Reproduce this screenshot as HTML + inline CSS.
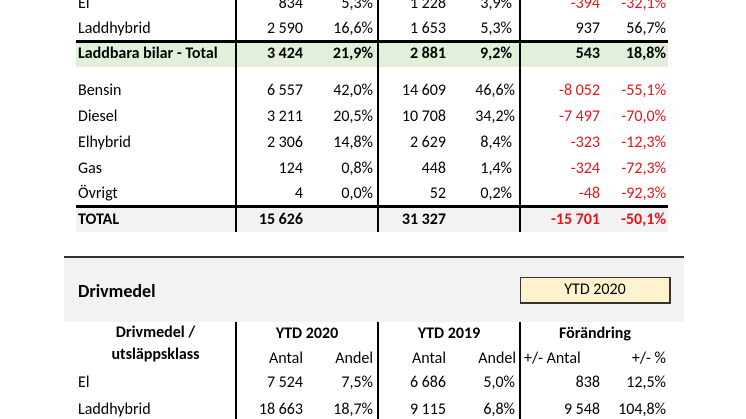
<!DOCTYPE html>
<html><head><meta charset="utf-8"><style>
body{margin:0;width:746px;height:419px;background:#fff;position:relative;overflow:hidden;font-family:Calibri,Carlito,"Liberation Sans",sans-serif;font-size:16px;color:#000}
div{position:absolute}
.t{white-space:nowrap;line-height:18px}
.r{text-align:right}
.red{color:#e8141b}
.b{font-weight:bold}
</style></head><body>
<div style="left:76px;top:42px;width:592px;height:25px;background:#e2efda"></div>
<div style="left:76px;top:208px;width:592px;height:24px;background:#f2f2f2"></div>
<div style="left:76px;top:40px;width:592px;height:3px;background:#000"></div>
<div style="left:76px;top:205px;width:592px;height:3px;background:#000"></div>
<div style="left:235px;top:0;width:2px;height:232px;background:#000"></div>
<div style="left:377px;top:0;width:2px;height:232px;background:#000"></div>
<div style="left:519px;top:0;width:2px;height:232px;background:#000"></div>

<div class="t" style="left:78px;top:-5px">El</div>
<div class="t r" style="right:443px;top:-5px">834</div><div class="t r" style="right:373px;top:-5px">5,3%</div>
<div class="t r" style="right:300px;top:-5px">1 228</div><div class="t r" style="right:234px;top:-5px">3,9%</div>
<div class="t r red" style="right:146px;top:-5px">-394</div><div class="t r red" style="right:80px;top:-5px">-32,1%</div>

<div class="t" style="left:78px;top:20px">Laddhybrid</div>
<div class="t r" style="right:443px;top:20px">2 590</div><div class="t r" style="right:373px;top:20px">16,6%</div>
<div class="t r" style="right:300px;top:20px">1 653</div><div class="t r" style="right:234px;top:20px">5,3%</div>
<div class="t r" style="right:146px;top:20px">937</div><div class="t r" style="right:80px;top:20px">56,7%</div>

<div class="t b" style="left:78px;top:45px">Laddbara bilar - Total</div>
<div class="t r b" style="right:443px;top:45px">3 424</div><div class="t r b" style="right:373px;top:45px">21,9%</div>
<div class="t r b" style="right:300px;top:45px">2 881</div><div class="t r b" style="right:234px;top:45px">9,2%</div>
<div class="t r b" style="right:146px;top:45px">543</div><div class="t r b" style="right:80px;top:45px">18,8%</div>

<div class="t" style="left:78px;top:82px">Bensin</div>
<div class="t r" style="right:443px;top:82px">6 557</div><div class="t r" style="right:373px;top:82px">42,0%</div>
<div class="t r" style="right:300px;top:82px">14 609</div><div class="t r" style="right:231px;top:82px">46,6%</div>
<div class="t r red" style="right:146px;top:82px">-8 052</div><div class="t r red" style="right:80px;top:82px">-55,1%</div>

<div class="t" style="left:78px;top:108px">Diesel</div>
<div class="t r" style="right:443px;top:108px">3 211</div><div class="t r" style="right:373px;top:108px">20,5%</div>
<div class="t r" style="right:300px;top:108px">10 708</div><div class="t r" style="right:231px;top:108px">34,2%</div>
<div class="t r red" style="right:146px;top:108px">-7 497</div><div class="t r red" style="right:80px;top:108px">-70,0%</div>

<div class="t" style="left:78px;top:134px">Elhybrid</div>
<div class="t r" style="right:443px;top:134px">2 306</div><div class="t r" style="right:373px;top:134px">14,8%</div>
<div class="t r" style="right:300px;top:134px">2 629</div><div class="t r" style="right:234px;top:134px">8,4%</div>
<div class="t r red" style="right:146px;top:134px">-323</div><div class="t r red" style="right:80px;top:134px">-12,3%</div>

<div class="t" style="left:78px;top:160px">Gas</div>
<div class="t r" style="right:443px;top:160px">124</div><div class="t r" style="right:373px;top:160px">0,8%</div>
<div class="t r" style="right:300px;top:160px">448</div><div class="t r" style="right:234px;top:160px">1,4%</div>
<div class="t r red" style="right:146px;top:160px">-324</div><div class="t r red" style="right:80px;top:160px">-72,3%</div>

<div class="t" style="left:78px;top:185px">Övrigt</div>
<div class="t r" style="right:443px;top:185px">4</div><div class="t r" style="right:373px;top:185px">0,0%</div>
<div class="t r" style="right:300px;top:185px">52</div><div class="t r" style="right:234px;top:185px">0,2%</div>
<div class="t r red" style="right:146px;top:185px">-48</div><div class="t r red" style="right:80px;top:185px">-92,3%</div>

<div class="t b" style="left:78px;top:211px">TOTAL</div>
<div class="t r b" style="right:443px;top:211px">15 626</div>
<div class="t r b" style="right:300px;top:211px">31 327</div>
<div class="t r b red" style="right:146px;top:211px">-15 701</div><div class="t r b red" style="right:80px;top:211px">-50,1%</div>

<div style="left:64px;top:256px;width:620px;height:66px;background:#f2f2f2"></div>
<div style="left:64px;top:256px;width:620px;height:2px;background:#333"></div>
<div class="t b" style="left:78px;top:281px;font-size:18px;line-height:20px">Drivmedel</div>
<div style="left:520px;top:277px;width:148px;height:24px;background:#fff2cc;border:1px solid #333;border-right-width:2px;border-bottom-width:2px;text-align:center;line-height:24px">YTD 2020</div>

<div style="left:235px;top:322px;width:2px;height:97px;background:#000"></div>
<div style="left:377px;top:322px;width:2px;height:97px;background:#000"></div>
<div style="left:519px;top:322px;width:2px;height:97px;background:#000"></div>

<div class="t b" style="left:76px;width:159px;text-align:center;top:324px">Drivmedel /</div>
<div class="t b" style="left:76px;width:159px;text-align:center;top:346px">utsläppsklass</div>
<div class="t b" style="left:237px;width:140px;text-align:center;top:325px">YTD 2020</div>
<div class="t b" style="left:379px;width:140px;text-align:center;top:325px">YTD 2019</div>
<div class="t b" style="left:521px;width:148px;text-align:center;top:325px">Förändring</div>
<div class="t r" style="right:443px;top:350px">Antal</div><div class="t r" style="right:373px;top:350px">Andel</div>
<div class="t r" style="right:300px;top:350px">Antal</div><div class="t r" style="right:230px;top:350px">Andel</div>
<div class="t" style="left:524px;top:350px">+/- Antal</div><div class="t r" style="right:80px;top:350px">+/- %</div>

<div class="t" style="left:78px;top:374px">El</div>
<div class="t r" style="right:443px;top:374px">7 524</div><div class="t r" style="right:373px;top:374px">7,5%</div>
<div class="t r" style="right:300px;top:374px">6 686</div><div class="t r" style="right:231px;top:374px">5,0%</div>
<div class="t r" style="right:146px;top:374px">838</div><div class="t r" style="right:80px;top:374px">12,5%</div>

<div class="t" style="left:78px;top:401px">Laddhybrid</div>
<div class="t r" style="right:443px;top:401px">18 663</div><div class="t r" style="right:373px;top:401px">18,7%</div>
<div class="t r" style="right:300px;top:401px">9 115</div><div class="t r" style="right:231px;top:401px">6,8%</div>
<div class="t r" style="right:146px;top:401px">9 548</div><div class="t r" style="right:80px;top:401px">104,8%</div>
</body></html>
